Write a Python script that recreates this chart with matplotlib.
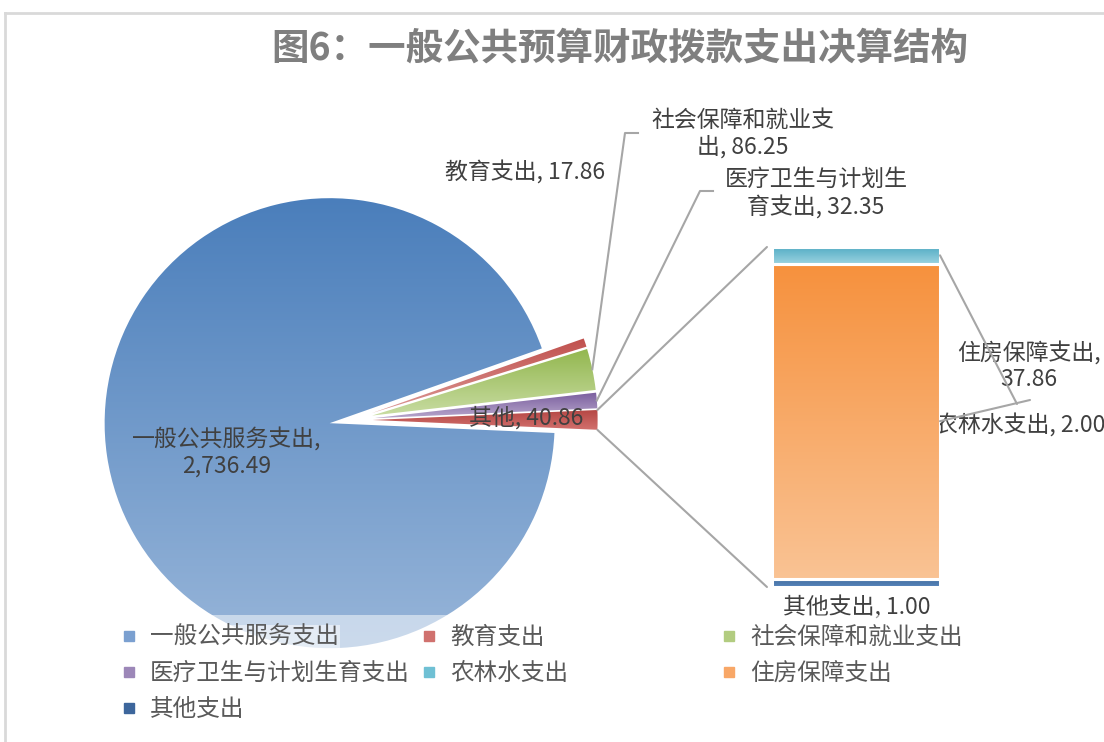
import numpy as np
import matplotlib
matplotlib.use('Agg')
import matplotlib.pyplot as plt
from matplotlib.patches import ConnectionPatch, Rectangle
from matplotlib.lines import Line2D
from matplotlib.colors import to_rgb

plt.rcParams['font.family'] = ['Noto Sans CJK SC', 'DejaVu Sans']

# ---------------- data ----------------
title = '图6：一般公共预算财政拨款支出决算结构'
pie_labels = ['一般公共服务支出', '教育支出', '社会保障和就业支出', '医疗卫生与计划生育支出', '其他']
pie_values = [2736.49, 17.86, 86.25, 32.35, 40.86]
bar_labels = ['其他支出', '住房保障支出', '农林水支出']   # bottom -> top
bar_values = [1.00, 37.86, 2.00]
legend_rows = [['一般公共服务支出', '教育支出', '社会保障和就业支出'],
               ['医疗卫生与计划生育支出', '农林水支出', '住房保障支出'],
               ['其他支出']]

# ---------------- styles ----------------
pie_grad = [('#4a7ebb', '#97b5d9'), ('#c0504d', '#dc9895'), ('#93b74f', '#c8dca2'),
            ('#7a5e9e', '#b6a5cb'), ('#b54744', '#d2716e')]
bar_grad = [('#44709f', '#5582ba'), ('#f6913d', '#fac394'), ('#56adc5', '#9ad3e0')]
legend_colors = {'一般公共服务支出': '#7ba0d0', '教育支出': '#d0716e', '社会保障和就业支出': '#b2cc80',
                 '医疗卫生与计划生育支出': '#9c87b8', '农林水支出': '#6fc0d4', '住房保障支出': '#f8a767',
                 '其他支出': '#3d669c'}
label_color = '#404040'
FS = 16.5
LFS = 17
W, H = 1104, 742


def Y(py):
    return H - py


def gradient_img(top, bottom):
    t = np.linspace(0, 1, 256)[:, None]
    ct, cb = np.array(to_rgb(top)), np.array(to_rgb(bottom))
    return (cb[None, :] * (1 - t) + ct[None, :] * t)[:, None, :]


fig = plt.figure(figsize=(W / 100, H / 100), dpi=100)
ax = fig.add_axes([0, 0, 1, 1])

# chart border
fig.add_artist(Line2D([5 / W, 1], [1 - 13 / H, 1 - 13 / H], transform=fig.transFigure, color='#d9d9d9', lw=2))
fig.add_artist(Line2D([5 / W, 5 / W], [0, 1 - 13 / H], transform=fig.transFigure, color='#d9d9d9', lw=2))

# ---------------- pie ----------------
R = 225
wedges, _ = ax.pie(pie_values, center=(351, Y(420)), radius=R, startangle=-2.5, counterclock=False,
                   explode=[21.6] * len(pie_values), frame=True,
                   wedgeprops=dict(edgecolor='none', linewidth=0))
for w, (ct, cb) in zip(wedges, pie_grad):
    verts = w.get_path().vertices
    im = ax.imshow(gradient_img(ct, cb),
                   extent=[verts[:, 0].min(), verts[:, 0].max(), verts[:, 1].min(), verts[:, 1].max()],
                   origin='lower', aspect='auto', interpolation='bilinear', zorder=0.9)
    im.set_clip_path(w)
    w.set_facecolor('none')
ax.set_xlim(0, W)
ax.set_ylim(0, H)
ax.axis('off')

# title
ax.text(620, Y(48), title, ha='center', va='center', fontsize=27, fontweight='bold', color='#7f7f7f')

# pie data labels
ax.text(227, Y(452), '一般公共服务支出,\n2,736.49', ha='center', va='center', fontsize=FS,
        color=label_color, linespacing=1.2, zorder=5)
ax.text(526, Y(418), '其他, 40.86', ha='center', va='center', fontsize=FS, color=label_color, zorder=5)
ax.text(525, Y(172), '教育支出, 17.86', ha='center', va='center', fontsize=FS, color=label_color, zorder=5)
ax.text(743, Y(134), '社会保障和就业支\n出, 86.25', ha='center', va='center', fontsize=FS,
        color=label_color, linespacing=1.2, zorder=5)
ax.text(816, Y(193), '医疗卫生与计划生\n育支出, 32.35', ha='center', va='center', fontsize=FS,
        color=label_color, linespacing=1.2, zorder=5)


def outer_mid(w):
    a = np.deg2rad((w.theta1 + w.theta2) / 2)
    return w.center[0] + w.r * np.cos(a), w.center[1] + w.r * np.sin(a)


lc = '#a6a6a6'
px, py = outer_mid(wedges[2])
ax.plot([638, 625, px], [Y(133), Y(133), py], color=lc, lw=1.5, zorder=4)
px, py = outer_mid(wedges[3])
ax.plot([713, 700, px], [Y(191), Y(191), py], color=lc, lw=1.5, zorder=4)

# ---------------- bar of pie ----------------
bax = fig.add_axes([772 / W, (H - 587) / H, 168 / W, 340 / H])
total = sum(bar_values)
bottoms = np.concatenate([[0], np.cumsum(bar_values)[:-1]])
rects = bax.bar([0] * len(bar_values), bar_values, bottom=bottoms, width=1.0,
                edgecolor='white', linewidth=2.2, zorder=3)
for r, (ct, cb) in zip(rects, bar_grad):
    x0, y0 = r.get_x(), r.get_y()
    im = bax.imshow(gradient_img(ct, cb), extent=[x0, x0 + r.get_width(), y0, y0 + r.get_height()],
                    origin='lower', aspect='auto', interpolation='bilinear', zorder=2)
    im.set_clip_path(r)
    r.set_facecolor('none')
bax.set_xlim(-0.5, 0.5)
bax.set_ylim(0, total)
bax.axis('off')

# connector lines pie -> bar
w = wedges[-1]
for ang, yb in [(w.theta2, 1.0), (w.theta1, 0.0)]:
    a = np.deg2rad(ang)
    p = (w.center[0] + w.r * np.cos(a), w.center[1] + w.r * np.sin(a))
    con = ConnectionPatch(xyA=p, coordsA=ax.transData, xyB=(-0.03, yb), coordsB=bax.transAxes,
                          color=lc, lw=1.5)
    fig.add_artist(con)

# bar labels + leader lines
ax.text(857, Y(607), '其他支出, 1.00', ha='center', va='center', fontsize=FS, color=label_color)
ax.text(1029, Y(366), '住房保障支出,\n37.86', ha='center', va='center', fontsize=FS,
        color=label_color, linespacing=1.2)
ax.text(1020, Y(425), '农林水支出, 2.00', ha='center', va='center', fontsize=FS, color=label_color)
mid_top = bottoms[2] + bar_values[2] / 2
mid_orange = bottoms[1] + bar_values[1] / 2
fig.add_artist(ConnectionPatch(xyA=(0.5, mid_top), coordsA=bax.transData, xyB=(1017, Y(404)),
                               coordsB=ax.transData, color=lc, lw=1.5))
fig.add_artist(ConnectionPatch(xyA=(0.5, mid_orange), coordsA=bax.transData, xyB=(1030, Y(400)),
                               coordsB=ax.transData, color=lc, lw=1.5))

# ---------------- legend ----------------
ax.add_patch(Rectangle((118, 0), 890, Y(615), facecolor='white', alpha=0.5, edgecolor='none', zorder=6))
col_x = [124, 424, 724]
for ci in range(3):
    names = [row[ci] for row in legend_rows if len(row) > ci]
    handles = [Line2D([], [], marker='s', ls='', color=legend_colors[n], markersize=6.5) for n in names]
    leg = fig.legend(handles, names, loc='upper left', bbox_to_anchor=(col_x[ci] / W, Y(626) / H),
                     frameon=False, fontsize=LFS, handlelength=0.45, handletextpad=0.65,
                     borderpad=0, borderaxespad=0, labelspacing=0.55, labelcolor='#595959')
    leg.set_zorder(7)
    if ci == 0:
        leg.get_texts()[0].set_bbox(dict(facecolor='white', alpha=0.5, edgecolor='none', pad=1))

fig.savefig('out.png', dpi=100)
